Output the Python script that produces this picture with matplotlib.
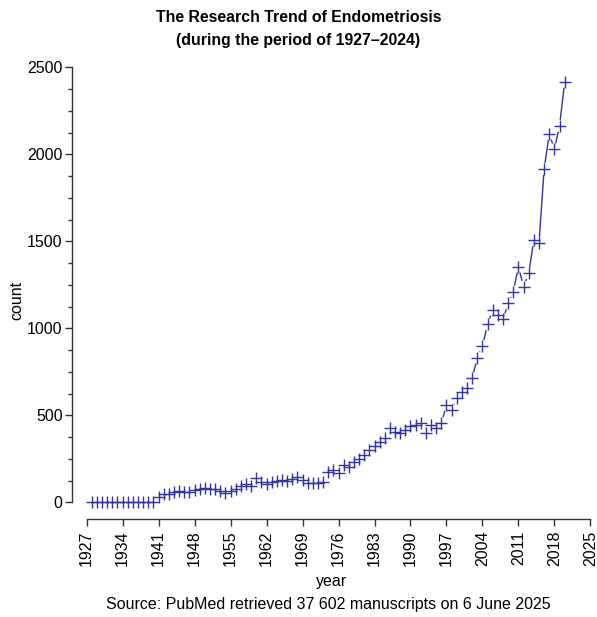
import numpy as np
import matplotlib
matplotlib.use("Agg")
import matplotlib.pyplot as plt
from matplotlib.collections import LineCollection

# ---- data ----
years = list(range(1928, 2021))
counts = [
    0, 0, 0, 0, 0, 0, 0, 0, 0, 0, 0, 0, 0,                 # 1928-1940
    33, 49, 50, 62, 66, 62,                                 # 1941-1946
    60, 72, 80, 81, 80, 75, 64, 55, 66, 80,                 # 1947-1956
    92, 105, 95, 140, 115, 105, 115, 122, 128, 125,         # 1957-1966
    133, 145, 130, 110, 110, 114, 120, 177, 187, 168,       # 1967-1976
    215, 206, 235, 250, 275, 300, 325, 350, 370, 426,       # 1977-1986
    407, 397, 416, 439, 445, 455, 397, 445, 426, 455,       # 1987-1996
    560, 531, 598, 636, 656, 713, 832, 899, 1024, 1106,     # 1997-2006
    1077, 1052, 1144, 1211, 1354, 1240, 1316, 1508, 1489, 1916,  # 2007-2016
    2117, 2029, 2164, 2417,                                 # 2017-2020
]
xtick_years = list(range(1927, 2026, 7))
ytick_vals = [0, 500, 1000, 1500, 2000, 2500]

COLOR = "#34349e"
FONT = "Liberation Sans"
FS = 11.5

W, H = 597, 617
fig = plt.figure(figsize=(W / 100, H / 100), dpi=100)

# axes box in pixels (left, top, right, bottom)
L, T, R, B = 72.3, 64.4, 590.5, 519.3
ax = fig.add_axes([L / W, 1 - B / H, (R - L) / W, (B - T) / H])

xlim = (1924.21, 2025.02)
ylim = (-96.8, 2516.8)
ax.set_xlim(*xlim)
ax.set_ylim(*ylim)

# points
ax.plot(years, counts, linestyle="none", marker="+", markersize=8.5,
        markeredgewidth=1.0, color=COLOR, zorder=3)

# R style type="b": segments that stop short of each point
pxx = (R - L) / (xlim[1] - xlim[0])
pxy = (B - T) / (ylim[1] - ylim[0])
gap = 6.0
segs = []
for i in range(len(years) - 1):
    x0, y0 = years[i] * pxx, counts[i] * pxy
    x1, y1 = years[i + 1] * pxx, counts[i + 1] * pxy
    d = np.hypot(x1 - x0, y1 - y0)
    if d <= 2 * gap:
        continue
    ux, uy = (x1 - x0) / d, (y1 - y0) / d
    a = ((x0 + ux * gap) / pxx, (y0 + uy * gap) / pxy)
    b = ((x1 - ux * gap) / pxx, (y1 - uy * gap) / pxy)
    segs.append([a, b])
ax.add_collection(LineCollection(segs, colors=COLOR, linewidths=1.0, zorder=2))

# axes styling
for s in ["top", "right"]:
    ax.spines[s].set_visible(False)
ax.spines["left"].set_bounds(0, 2500)
ax.spines["bottom"].set_bounds(1927, 2025)
for s in ["left", "bottom"]:
    ax.spines[s].set_color("#333333")
    ax.spines[s].set_linewidth(1.0)

ax.set_xticks(xtick_years)
ax.set_xticklabels([str(y) for y in xtick_years], rotation=90,
                   fontsize=FS, family=FONT)
ax.set_yticks(ytick_vals)
ax.set_yticklabels([str(v) for v in ytick_vals], fontsize=FS, family=FONT)
ax.set_yticks(np.arange(0, 2501, 125), minor=True)
ax.tick_params(axis="both", which="major", length=5, width=1.0,
               color="#333333")
ax.tick_params(axis="x", which="major", pad=3)
ax.tick_params(axis="y", which="major", pad=2)
ax.tick_params(axis="y", which="minor", length=3, width=1.0, color="#333333")

ax.set_xlabel("year", fontsize=FS, family=FONT, labelpad=6)
ax.set_ylabel("count", fontsize=FS, family=FONT)
ax.yaxis.set_label_coords(-0.092, 0.482)

fig.text(0.5, 1 - 17 / H, "The Research Trend of Endometriosis",
         ha="center", va="center", fontsize=11.4, fontweight="bold", family=FONT)
fig.text(0.5, 1 - 40 / H, "(during the period of 1927\u20132024)",
         ha="center", va="center", fontsize=11.4, fontweight="bold", family=FONT)
fig.text((L + 585.3) / 2 / W, 1 - 605 / H,
         "Source: PubMed retrieved 37 602 manuscripts on 6 June 2025",
         ha="center", va="center", fontsize=FS, family=FONT)

fig.savefig("out.png", dpi=100)
